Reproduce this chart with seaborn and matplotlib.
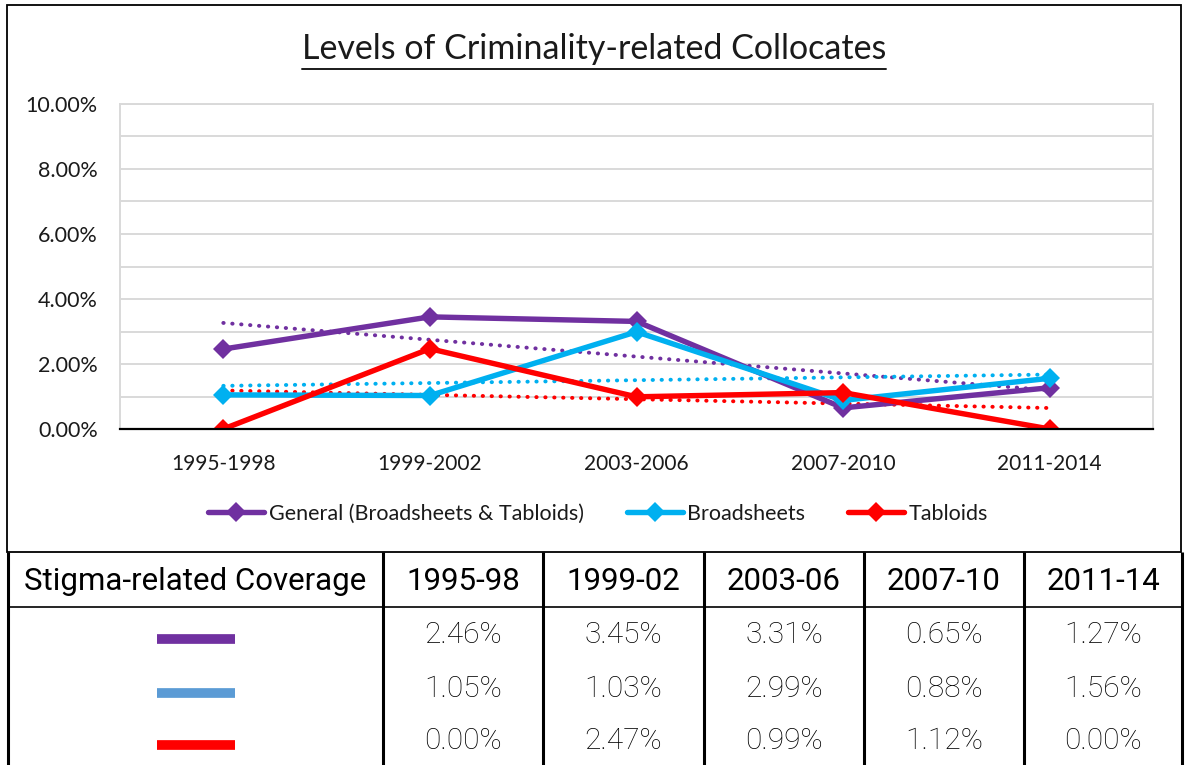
import matplotlib
matplotlib.use("Agg")
import matplotlib.pyplot as plt
from matplotlib.patches import Rectangle
from matplotlib.lines import Line2D
from matplotlib.ticker import MultipleLocator, FixedLocator, NullFormatter
import numpy as np
import pandas as pd
import seaborn as sns

# ---- data -------------------------------------------------------------
periods = ["1995-1998", "1999-2002", "2003-2006", "2007-2010", "2011-2014"]
short_periods = ["1995-98", "1999-02", "2003-06", "2007-10", "2011-14"]
series_names = ["General (Broadsheets & Tabloids)", "Broadsheets", "Tabloids"]
general = [2.46, 3.45, 3.31, 0.65, 1.27]
broadsheets = [1.05, 1.03, 2.99, 0.88, 1.56]
tabloids = [0.00, 2.47, 0.99, 1.12, 0.00]
y_ticks = [0.0, 2.0, 4.0, 6.0, 8.0, 10.0]
table_header = "Stigma-related Coverage"

line_colors = ["#7030A0", "#00B0F0", "#FF0000"]
table_swatch_colors = ["#7030A0", "#5B9BD5", "#FF0000"]

W, H = 1186, 765
sns.set_theme(style="white")
plt.rcParams["font.family"] = ["Lato", "DejaVu Sans"]

fig = plt.figure(figsize=(W / 100, H / 100), dpi=100)
fig.patch.set_facecolor("white")


def fx(px):
    return px / W


def fy(py):
    return 1 - py / H


# ---- chart frame --------------------------------------------------------
fig.add_artist(Rectangle((fx(7), fy(552)), fx(1181) - fx(7), fy(5) - fy(552),
                         transform=fig.transFigure, fill=False,
                         edgecolor="black", linewidth=1.3, zorder=0))

# ---- line chart ---------------------------------------------------------
left, right, top, bottom = 120, 1153, 104, 429
ax = fig.add_axes([fx(left), fy(bottom), fx(right) - fx(left), fy(top) - fy(bottom)])

records = []
for name, vals in zip(series_names, [general, broadsheets, tabloids]):
    for i, v in enumerate(vals):
        records.append({"series": name, "pos": i, "value": v / 100.0})
df = pd.DataFrame(records)

# dotted linear trend lines
for name, color in zip(series_names, line_colors):
    sub = df[df["series"] == name]
    sns.regplot(data=sub, x="pos", y="value", ax=ax, scatter=False, ci=None,
                truncate=True, color=color,
                line_kws=dict(linewidth=2.8, linestyle=(0, (0.1, 2.2)),
                              dash_capstyle="round", zorder=2))

sns.lineplot(data=df, x="pos", y="value", hue="series", hue_order=series_names,
             palette=line_colors, marker="D", markersize=10, markeredgewidth=0,
             linewidth=3.9, ax=ax, legend=False, zorder=3)

ax.set_xlim(-0.5, 4.5)
ax.set_ylim(0, 0.10)
ax.set_xlabel("")
ax.set_ylabel("")

ax.yaxis.set_major_locator(FixedLocator([t / 100 for t in y_ticks]))
ax.set_yticklabels([f"{t:.2f}%" for t in y_ticks])
ax.yaxis.set_minor_locator(MultipleLocator(0.01))
ax.grid(True, which="both", axis="y", color="#D9D9D9", linewidth=1.4)
ax.set_axisbelow(True)
ax.tick_params(axis="y", which="both", length=0, pad=16, labelsize=15.5, labelcolor="#1a1a1a")

# category boundaries as ticks, labels centered between them
ax.xaxis.set_major_locator(FixedLocator(np.arange(-0.5, 5.0, 1.0)))
ax.xaxis.set_major_formatter(NullFormatter())
ax.xaxis.set_minor_locator(FixedLocator(np.arange(0, 5)))
ax.set_xticks(np.arange(0, 5), periods, minor=True)
ax.tick_params(axis="x", which="major", direction="inout", length=13, width=1.4, color="black")
ax.tick_params(axis="x", which="minor", length=0, pad=18, labelsize=15, labelcolor="#1a1a1a")

for side in ["left", "right", "top"]:
    ax.spines[side].set_visible(True)
    ax.spines[side].set_color("#D9D9D9")
    ax.spines[side].set_linewidth(1.4)
ax.spines["bottom"].set_color("black")
ax.spines["bottom"].set_linewidth(1.6)
ax.spines["bottom"].set_zorder(4)

# title
title = fig.text(fx(594), fy(49), "Levels of Criminality-related Collocates",
                 ha="center", va="center", fontsize=24.5, color="#1a1a1a")
fig.canvas.draw()
bb = title.get_window_extent(fig.canvas.get_renderer())
fig.add_artist(Line2D([bb.x0 / W, bb.x1 / W], [fy(69), fy(69)],
                      transform=fig.transFigure, color="#1a1a1a", linewidth=1.4))

# legend
handles = [Line2D([], [], color=c, linewidth=3.9, marker="D", markersize=10,
                  markeredgewidth=0) for c in line_colors]
fig.legend(handles, series_names, loc="center", bbox_to_anchor=(fx(598), fy(514)),
           ncol=3, frameon=False, fontsize=15.5, handlelength=2.6,
           handletextpad=0.2, columnspacing=2.0, labelcolor="#1a1a1a")

# ---- data table ---------------------------------------------------------
tax = fig.add_axes([0, 0, 1, fy(552)])
tax.set_xlim(0, W)
tax.set_ylim(H, 552)
tax.axis("off")

col_edges = [8, 383, 543, 704, 864, 1024, 1182]
for xe in col_edges:
    tax.plot([xe, xe], [552, H], color="black", linewidth=2.2, solid_capstyle="butt")
tax.plot([8, 1182], [607, 607], color="black", linewidth=1.2)

tfont = ["Roboto", "DejaVu Sans"]
tax.text((col_edges[0] + col_edges[1]) / 2, 581, table_header, ha="center",
         va="center", fontsize=22.5, family=tfont, color="black")
for j, lab in enumerate(short_periods):
    cx = (col_edges[j + 1] + col_edges[j + 2]) / 2
    tax.text(cx, 581, lab, ha="center", va="center", fontsize=22.5, family=tfont,
             color="black")

row_y = [635, 689, 741]
swatch_y = [639, 693, 745]
for r, (vals, sc) in enumerate(zip([general, broadsheets, tabloids], table_swatch_colors)):
    tax.plot([157, 235], [swatch_y[r]] * 2, color=sc, linewidth=7,
             solid_capstyle="butt")
    for j, v in enumerate(vals):
        cx = (col_edges[j + 1] + col_edges[j + 2]) / 2
        tax.text(cx, row_y[r], f"{v:.2f}%", ha="center", va="center", fontsize=21.5,
                 family=tfont, fontweight="light", color="#000000")

fig.savefig("out.png", dpi=100, facecolor="white")
